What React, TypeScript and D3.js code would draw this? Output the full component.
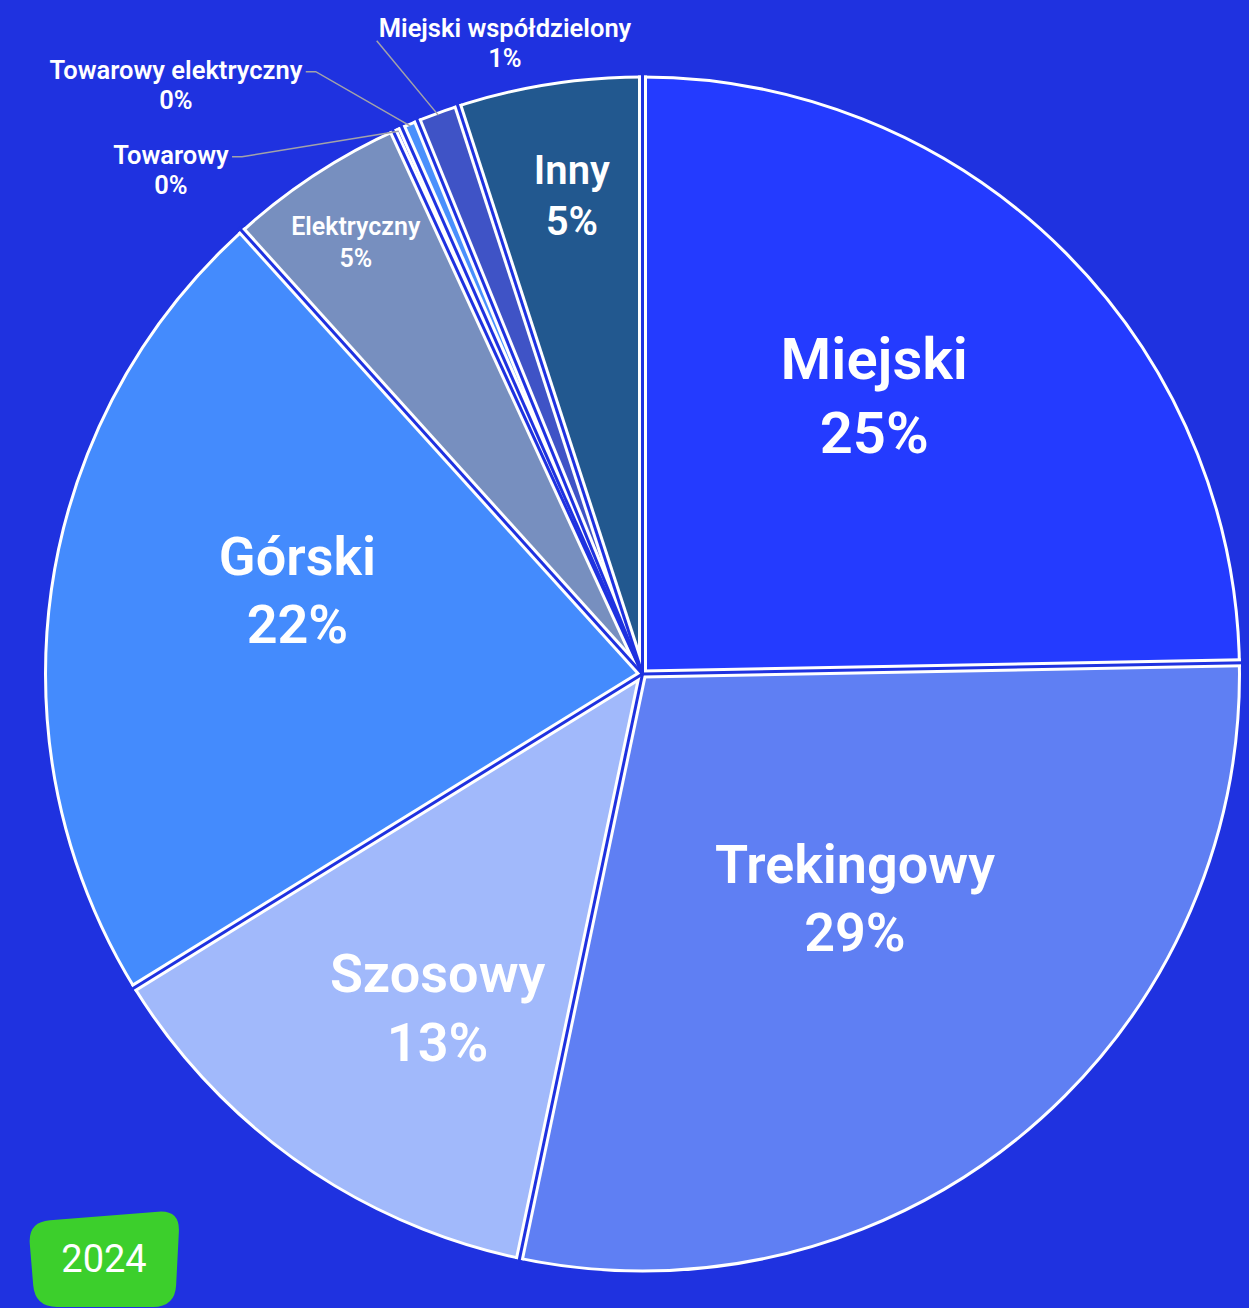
import { useEffect, useRef } from "react";
import * as d3 from "d3";

// udział typów rowerów, 2024
const categories = [
  "Miejski",
  "Trekingowy",
  "Szosowy",
  "Górski",
  "Elektryczny",
  "Towarowy",
  "Towarowy elektryczny",
  "Miejski współdzielony",
  "Inny",
];
const shares = [24.7, 28.6, 12.9, 22.1, 4.85, 0.25, 0.45, 1.15, 5.0];
const colors = [
  "#243bff",
  "#5f7ff3",
  "#a1b9fb",
  "#448bfd",
  "#778fbf",
  "#2133dd",
  "#4a90fc",
  "#3f53c6",
  "#22588f",
];
const yearLabel = "2024";

// layout of labels: inside = [radius fraction, angle shift in deg, font size]
const insideLabels: Record<string, [number, number, number]> = {
  Miejski: [0.607, -4.7, 58],
  Trekingowy: [0.517, -3.9, 54],
  Szosowy: [0.655, -3.5, 54],
  Górski: [0.595, 5.6, 54],
  Elektryczny: [0.868, -0.2, 25],
  Inny: [0.81, 0.6, 40],
};
// outside labels: block centre, and whether the leader line has an elbow
const outsideLabels: Record<string, { x: number; y: number; elbow: number }> = {
  Towarowy: { x: 171, y: 170, elbow: 1 },
  "Towarowy elektryczny": { x: 176, y: 85, elbow: 1 },
  "Miejski współdzielony": { x: 505, y: 43, elbow: 0 },
};

const W = 1249;
const H = 1308;
const BG = "#1f32e0";
const FONT = "Roboto, 'Open Sans', sans-serif";

type Slice = { key: string; value: number; color: string };

export default function App() {
  const svgRef = useRef<SVGSVGElement>(null);

  useEffect(() => {
    document.body.style.margin = "0";
    if (!svgRef.current) return;
    const svg = d3.select(svgRef.current);
    svg.selectAll("*").remove();
    svg.attr("width", W).attr("height", H).attr("viewBox", `0 0 ${W} ${H}`);

    svg.append("rect").attr("width", W).attr("height", H).attr("fill", BG);

    const cx = 642.5;
    const cy = 674;
    const radius = 597;

    const data: Slice[] = categories.map((c, i) => ({ key: c, value: shares[i], color: colors[i] }));

    const pie = d3
      .pie<Slice>()
      .value((d) => d.value)
      .sort(null);

    const arc = d3.arc<d3.PieArcDatum<Slice>>().innerRadius(0).outerRadius(radius);

    const arcs = pie(data);
    const chart = svg.append("g").attr("transform", `translate(${cx},${cy})`);

    chart
      .selectAll(".slice")
      .data(arcs)
      .enter()
      .append("path")
      .attr("class", "slice")
      .attr("d", arc)
      .attr("fill", (d) => d.data.color);

    // obwódka
    chart
      .append("circle")
      .attr("r", radius)
      .attr("fill", "none")
      .attr("stroke", "#ffffff")
      .attr("stroke-width", 3);

    // separatory: biały pas z przerwą w kolorze tła
    const ray = (a: number, r: number) => `M0,0L${Math.sin(a) * r},${-Math.cos(a) * r}`;
    chart
      .selectAll(".sep-w")
      .data(arcs)
      .enter()
      .append("path")
      .attr("d", (d) => ray(d.startAngle, radius + 1.5))
      .attr("stroke", "#ffffff")
      .attr("stroke-width", 9);
    chart
      .selectAll(".sep-b")
      .data(arcs)
      .enter()
      .append("path")
      .attr("d", (d) => ray(d.startAngle, radius + 5))
      .attr("stroke", BG)
      .attr("stroke-width", 3);

    const total = d3.sum(shares);
    const pct = (v: number) => `${Math.round((v / total) * 100)}%`;

    // etykiety wewnątrz
    arcs.forEach((a) => {
      const cfg = insideLabels[a.data.key];
      if (!cfg) return;
      const [rf, shift, fs] = cfg;
      const mid = (a.startAngle + a.endAngle) / 2 + (shift * Math.PI) / 180;
      const x = Math.sin(mid) * radius * rf;
      const y = -Math.cos(mid) * radius * rf;
      const cap = fs * 0.71;
      const gap = fs * 1.27;
      const base1 = y - (cap + gap) / 2 + cap;
      const g = chart
        .append("g")
        .attr("fill", "#ffffff")
        .attr("font-family", FONT)
        .attr("font-weight", 600)
        .attr("text-anchor", "middle")
        .attr("font-size", fs);
      g.append("text").attr("x", x).attr("y", base1).text(a.data.key);
      g.append("text").attr("x", x).attr("y", base1 + gap).text(pct(a.data.value));
    });

    // etykiety na zewnątrz z liniami
    arcs.forEach((a) => {
      const cfg = outsideLabels[a.data.key];
      if (!cfg) return;
      const mid = (a.startAngle + a.endAngle) / 2;
      const px = cx + Math.sin(mid) * (radius - 2);
      const py = cy - Math.cos(mid) * (radius - 2);
      const fs = 25.5;
      const cap = fs * 0.71;
      const gap = fs * 1.2;
      const base1 = cfg.y - (cap + gap) / 2 + cap;
      const g = svg
        .append("g")
        .attr("fill", "#ffffff")
        .attr("font-family", FONT)
        .attr("font-weight", 600)
        .attr("text-anchor", "middle")
        .attr("font-size", fs);
      const t = g.append("text").attr("x", cfg.x).attr("y", base1).text(a.data.key);
      g.append("text").attr("x", cfg.x).attr("y", base1 + gap).text(pct(a.data.value));
      const bb = (t.node() as SVGTextElement).getBBox();
      let pts: [number, number][];
      if (cfg.elbow) {
        const sx = bb.x + bb.width + 3;
        const sy = base1 - cap / 2 + 2;
        pts = [
          [sx, sy],
          [sx + 10, sy],
          [px, py],
        ];
      } else {
        pts = [
          [bb.x - 2, bb.y + bb.height - 2],
          [px, py],
        ];
      }
      svg
        .append("path")
        .attr("d", d3.line()(pts))
        .attr("fill", "none")
        .attr("stroke", "#a3a3a8")
        .attr("stroke-width", 1.5);
    });

    // plakietka z rokiem
    const corners: [number, number][] = [
      [28, 1222],
      [180, 1210],
      [175, 1307],
      [35, 1307],
    ];
    const rr = 22;
    let d = "";
    corners.forEach((c, i) => {
      const prev = corners[(i + corners.length - 1) % corners.length];
      const next = corners[(i + 1) % corners.length];
      const toward = (p: [number, number], q: [number, number]) => {
        const dx = q[0] - p[0];
        const dy = q[1] - p[1];
        const len = Math.hypot(dx, dy);
        return [p[0] + (dx / len) * rr, p[1] + (dy / len) * rr];
      };
      const a1 = toward(c, prev);
      const a2 = toward(c, next);
      d += `${i === 0 ? "M" : "L"}${a1[0]},${a1[1]} Q${c[0]},${c[1]} ${a2[0]},${a2[1]} `;
    });
    d += "Z";
    svg.append("path").attr("d", d).attr("fill", "#3ccf2c");
    svg
      .append("text")
      .attr("x", 104)
      .attr("y", 1272)
      .attr("text-anchor", "middle")
      .attr("fill", "#ffffff")
      .attr("font-family", FONT)
      .attr("font-size", 38)
      .text(yearLabel);
  }, []);

  return (
    <div style={{ width: W, height: H }}>
      <svg ref={svgRef} style={{ display: "block" }} />
    </div>
  );
}
